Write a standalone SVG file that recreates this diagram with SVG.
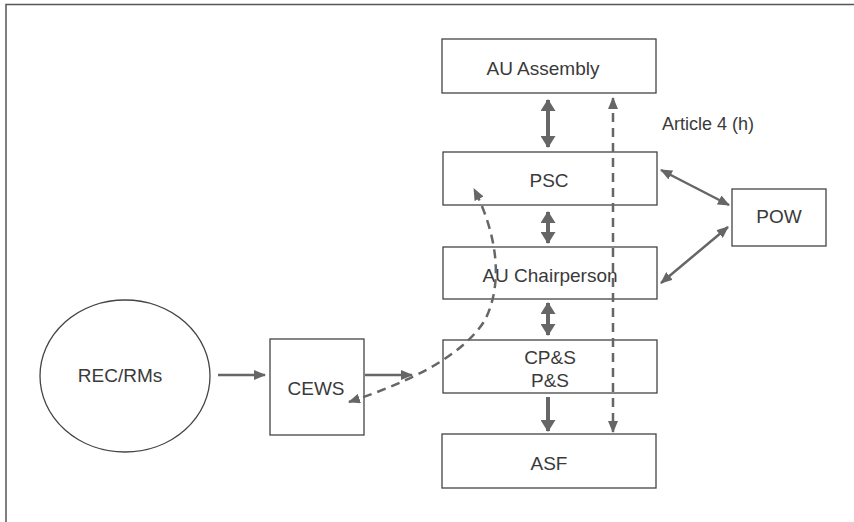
<svg xmlns="http://www.w3.org/2000/svg" width="854" height="522" viewBox="0 0 854 522">
<defs>
<style>
.box{fill:#fff;stroke:#444;stroke-width:1.3}
.lbl{font-family:"Liberation Sans",Arial,sans-serif;font-size:19px;fill:#3a3a3a;text-anchor:middle}
.thick{stroke:#666;stroke-width:4;fill:none}
.thin{stroke:#666;stroke-width:2.5;fill:none}
.dash{stroke:#666;stroke-width:2.5;fill:none;stroke-dasharray:9 6}
</style>
<marker id="hb" viewBox="0 0 12 15" refX="11" refY="7.5" markerWidth="12" markerHeight="15" markerUnits="userSpaceOnUse" orient="auto-start-reverse">
<path d="M0,0 L12,7.5 L0,15 z" fill="#666"/>
</marker>
<marker id="hs" viewBox="0 0 12 10" refX="11" refY="5" markerWidth="12" markerHeight="10" markerUnits="userSpaceOnUse" orient="auto-start-reverse">
<path d="M0,0 L12,5 L0,10 z" fill="#666"/>
</marker>
</defs>
<rect x="0" y="0" width="854" height="522" fill="#fff"/>
<path d="M6,522 V4.5 H854" fill="none" stroke="#555" stroke-width="1.5"/>

<g id="au-assembly"><rect class="box" x="442" y="39" width="214" height="54"/><text class="lbl" x="543" y="75">AU Assembly</text></g>
<g id="psc"><rect class="box" x="443" y="152" width="214" height="53"/><text class="lbl" x="549" y="187">PSC</text></g>
<g id="au-chairperson"><rect class="box" x="443" y="247" width="214" height="52"/><text class="lbl" x="550" y="282">AU Chairperson</text></g>
<g id="cps"><rect class="box" x="443" y="340" width="214" height="53"/><text class="lbl" x="550" y="364">CP&amp;S</text><text class="lbl" x="550" y="387">P&amp;S</text></g>
<g id="asf"><rect class="box" x="442" y="434" width="214" height="54"/><text class="lbl" x="549" y="470">ASF</text></g>
<g id="pow"><rect class="box" x="732" y="189" width="94" height="57"/><text class="lbl" x="779" y="223">POW</text></g>
<g id="rec-rms"><ellipse class="box" cx="125" cy="376" rx="85" ry="76"/><text class="lbl" x="120" y="382">REC/RMs</text></g>
<g id="cews"><rect class="box" x="270" y="339" width="94" height="96"/><text class="lbl" x="316" y="395">CEWS</text></g>
<g id="article-label"><text class="lbl" x="662" y="130" style="text-anchor:start;font-size:18px">Article 4 (h)</text></g>

<g id="connectors">
<line class="thick" x1="548" y1="100" x2="548" y2="147" marker-start="url(#hb)" marker-end="url(#hb)"/>
<line class="thick" x1="548" y1="212" x2="548" y2="243" marker-start="url(#hb)" marker-end="url(#hb)"/>
<line class="thick" x1="548" y1="303" x2="548" y2="335" marker-start="url(#hb)" marker-end="url(#hb)"/>
<line class="thick" x1="548" y1="397" x2="548" y2="431" marker-end="url(#hb)"/>
<line class="dash" x1="613" y1="98" x2="613" y2="432" marker-start="url(#hs)" marker-end="url(#hs)"/>
<line class="thin" x1="661" y1="170" x2="729" y2="205" marker-start="url(#hs)" marker-end="url(#hs)"/>
<line class="thin" x1="728" y1="227" x2="661" y2="283" marker-start="url(#hs)" marker-end="url(#hs)"/>
<line class="thin" x1="218" y1="375" x2="265" y2="375" marker-end="url(#hs)"/>
<line class="thin" x1="365" y1="375" x2="412" y2="375" marker-end="url(#hs)"/>
<path class="dash" d="M349,402 C400,385 460,360 485,320 C505,280 495,230 474,189" marker-start="url(#hs)" marker-end="url(#hs)"/>
</g>
</svg>
